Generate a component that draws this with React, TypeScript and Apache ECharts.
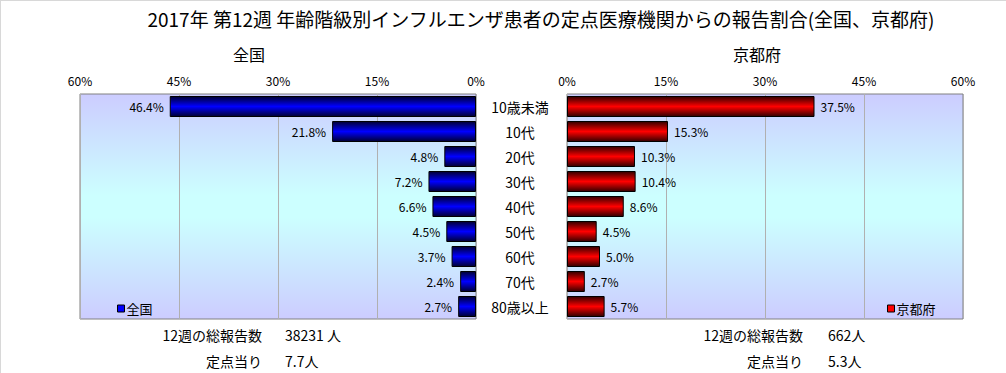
import React, { useEffect, useRef } from "react";
import * as echarts from "echarts";

const categories = ["10歳未満", "10代", "20代", "30代", "40代", "50代", "60代", "70代", "80歳以上"];
const nationalValues = [46.4, 21.8, 4.8, 7.2, 6.6, 4.5, 3.7, 2.4, 2.7];
const kyotoValues = [37.5, 15.3, 10.3, 10.4, 8.6, 4.5, 5.0, 2.7, 5.7];
const axisMax = 60;
const axisInterval = 15;
const titleText = "2017年 第12週 年齢階級別インフルエンザ患者の定点医療機関からの報告割合(全国、京都府)";
const nationalTotals = { label1: "12週の総報告数", value1: "38231 人", label2: "定点当り", value2: "7.7人" };
const kyotoTotals = { label1: "12週の総報告数", value1: "662人", label2: "定点当り", value2: "5.3人" };

const FONT = '"Noto Sans CJK JP", "Noto Sans", sans-serif';

const bgGradient = {
  type: "linear", x: 0, y: 0, x2: 0, y2: 1,
  colorStops: [
    { offset: 0, color: "#ccccff" },
    { offset: 0.45, color: "#ccffff" },
    { offset: 0.55, color: "#ccffff" },
    { offset: 1, color: "#ccccff" },
  ],
};
const barGrad = (dark: string, bright: string) => ({
  type: "linear", x: 0, y: 0, x2: 0, y2: 1,
  colorStops: [
    { offset: 0, color: dark },
    { offset: 0.5, color: bright },
    { offset: 1, color: dark },
  ],
});

export default function App() {
  const ref = useRef<HTMLDivElement>(null);
  useEffect(() => {
    if (!ref.current) return;
    const chart = echarts.init(ref.current, null, { renderer: "svg" });
    const fmt = (p: any) => Number(p.value).toFixed(1) + "%";
    const xAxisCommon = {
      type: "value",
      min: 0,
      max: axisMax,
      interval: axisInterval,
      position: "top",
      axisLine: { show: false },
      axisTick: { show: false },
      axisLabel: { formatter: "{value}%", fontSize: 12, color: "#000", margin: 8, fontFamily: FONT },
      splitLine: { show: true, lineStyle: { color: "#b0b0b0", width: 1 } },
    };
    const bottomText = (x: number, y: number, text: string, align: string) => ({
      type: "text", x, y,
      style: { text, fill: "#000", font: `14px ${FONT}`, textAlign: align, textVerticalAlign: "middle" },
    });
    chart.setOption({
      animation: false,
      backgroundColor: "#fff",
      textStyle: { fontFamily: FONT },
      title: [
        { text: titleText, left: 536, top: 4, textAlign: "center", textStyle: { fontSize: 19, fontWeight: "normal", color: "#000", fontFamily: FONT } },
        { text: "全国", left: 244, top: 41, textAlign: "center", textStyle: { fontSize: 16, fontWeight: "normal", color: "#000", fontFamily: FONT } },
        { text: "京都府", left: 752, top: 41, textAlign: "center", textStyle: { fontSize: 16, fontWeight: "normal", color: "#000", fontFamily: FONT } },
      ],
      legend: [
        {
          data: [{ name: "全国", itemStyle: { color: "#0000ff", borderColor: "#000", borderWidth: 1 } }],
          left: 112, top: 297, icon: "rect", itemWidth: 7, itemHeight: 7, itemGap: 2,
          textStyle: { fontSize: 13, color: "#000", padding: [0, 0, 0, -3] },
        },
        {
          data: [{ name: "京都府", itemStyle: { color: "#ff0000", borderColor: "#000", borderWidth: 1 } }],
          left: 882, top: 297, icon: "rect", itemWidth: 7, itemHeight: 7, itemGap: 2,
          textStyle: { fontSize: 13, color: "#000", padding: [0, 0, 0, -3] },
        },
      ],
      grid: [
        { left: 80, top: 94, width: 396, height: 225, show: true, backgroundColor: bgGradient, borderColor: "#808080", borderWidth: 1 },
        { left: 567, top: 94, width: 396, height: 225, show: true, backgroundColor: bgGradient, borderColor: "#808080", borderWidth: 1 },
      ],
      xAxis: [
        { ...xAxisCommon, gridIndex: 0, inverse: true },
        { ...xAxisCommon, gridIndex: 1 },
      ],
      yAxis: [
        {
          type: "category", gridIndex: 0, data: categories, inverse: true, position: "right",
          axisLine: { show: false }, axisTick: { show: false }, axisLabel: { show: false },
        },
        {
          type: "category", gridIndex: 1, data: categories, inverse: true, position: "left",
          axisLine: { show: false }, axisTick: { show: false },
          axisLabel: { show: true, align: "center", margin: 47, fontSize: 14, color: "#000", fontFamily: FONT },
        },
      ],
      series: [
        {
          name: "全国", type: "bar", xAxisIndex: 0, yAxisIndex: 0, data: nationalValues,
          barCategoryGap: "16%",
          itemStyle: { color: barGrad("#000033", "#0000ff"), borderColor: "#000", borderWidth: 1 },
          label: { show: true, position: "left", distance: 6, formatter: fmt, fontSize: 12, color: "#000", fontFamily: FONT },
        },
        {
          name: "京都府", type: "bar", xAxisIndex: 1, yAxisIndex: 1, data: kyotoValues,
          barCategoryGap: "16%",
          itemStyle: { color: barGrad("#330000", "#ff0000"), borderColor: "#000", borderWidth: 1 },
          label: { show: true, position: "right", distance: 6, formatter: fmt, fontSize: 12, color: "#000", fontFamily: FONT },
        },
      ],
      graphic: [
        { type: "line", shape: { x1: 0, y1: 0.5, x2: 1006, y2: 0.5 }, style: { stroke: "#d8d8d8", lineWidth: 1 } },
        { type: "line", shape: { x1: 0.5, y1: 0, x2: 0.5, y2: 373 }, style: { stroke: "#d8d8d8", lineWidth: 1 } },
        bottomText(262, 335, nationalTotals.label1, "right"),
        bottomText(285, 335, nationalTotals.value1, "left"),
        bottomText(262, 361, nationalTotals.label2, "right"),
        bottomText(285, 361, nationalTotals.value2, "left"),
        bottomText(803, 335, kyotoTotals.label1, "right"),
        bottomText(828, 335, kyotoTotals.value1, "left"),
        bottomText(803, 361, kyotoTotals.label2, "right"),
        bottomText(828, 361, kyotoTotals.value2, "left"),
      ],
    });
    return () => chart.dispose();
  }, []);
  return <div ref={ref} style={{ position: "fixed", left: 0, top: 0, width: 1006, height: 373 }} />;
}
